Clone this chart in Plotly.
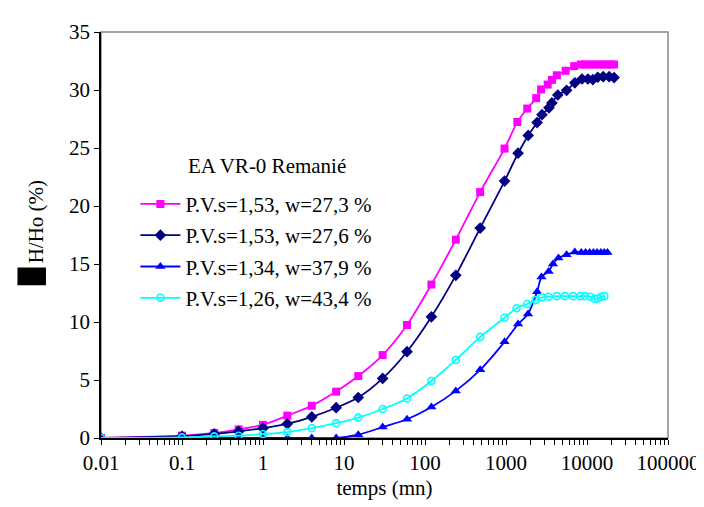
import plotly.graph_objects as go
import numpy as np

# ---------------- data ----------------
t_mag = [0.01, 0.1, 0.25, 0.5, 1, 2, 4, 8, 15, 30, 60, 120, 240, 480, 960, 1380, 1830, 2360, 2710,
         3270, 3690, 4240, 5450, 6940, 8400, 9500, 10800, 12200, 13800, 15600, 17600, 19600, 21600]
v_mag = [0, 0.2, 0.43, 0.74, 1.13, 1.93, 2.78, 4.0, 5.34, 7.15, 9.74, 13.23, 17.1, 21.2, 24.95, 27.24, 28.4,
         29.3, 30.05, 30.47, 30.87, 31.27, 31.66, 32.06, 32.2, 32.2, 32.2, 32.2, 32.2, 32.2, 32.2, 32.2, 32.2]

t_nav = [0.01, 0.1, 0.25, 0.5, 1, 2, 4, 8, 15, 30, 60, 120, 240, 480, 960, 1410, 1880, 2420, 2780,
         3390, 3690, 4360, 5600, 7080, 8680, 10250, 11800, 13570, 15860, 18780, 21600]
v_nav = [0, 0.15, 0.35, 0.57, 0.85, 1.22, 1.82, 2.61, 3.49, 5.14, 7.44, 10.45, 14.02, 18.1, 22.15, 24.55,
         26.08, 27.19, 27.87, 28.46, 28.89, 29.57, 29.97, 30.62, 30.95, 30.95, 30.9, 31.1, 31.15, 31.15, 31.07]

t_blu = [0.01, 0.1, 0.25, 0.5, 1, 2, 4, 8, 15, 30, 60, 120, 240, 480, 960, 1410, 1870, 2420, 2740,
         3360, 3800, 4440, 5600, 7080, 8500, 9600, 10800, 12000, 13300, 14800, 16300, 17900]
v_blu = [0, 0, 0, 0, 0, 0, 0, 0, 0.28, 0.94, 1.62, 2.67, 4.06, 5.88, 8.29, 9.82, 10.7, 12.6, 13.88,
         14.36, 15.01, 15.52, 15.8, 16.03, 16.0, 16.0, 16.0, 16.0, 16.0, 16.0, 16.0, 16.0]

t_cya = [0.01, 0.1, 0.25, 0.5, 1, 2, 4, 8, 15, 30, 60, 120, 240, 480, 960, 1350, 1830, 2310, 2780,
         3360, 4240, 5350, 6750, 8300, 9360, 10970, 12370, 13570, 14900, 16360]
v_cya = [0, 0.05, 0.14, 0.2, 0.34, 0.51, 0.85, 1.28, 1.76, 2.5, 3.41, 4.91, 6.73, 8.72, 10.36, 11.19,
         11.55, 11.89, 12.12, 12.18, 12.23, 12.23, 12.23, 12.23, 12.23, 12.18, 12.01, 12.03, 12.18, 12.23]

names = ["P.V.s=1,53, w=27,3 %", "P.V.s=1,53, w=27,6 %", "P.V.s=1,34, w=37,9 %", "P.V.s=1,26, w=43,4 %"]
legend_title = "EA VR-0 Remanié"
x_title = "temps (mn)"
y_title = "H/Ho (%)"

decades = [0.01, 0.1, 1, 10, 100, 1000, 10000, 100000]
decade_labels = ["0.01", "0.1", "1", "10", "100", "1000", "10000", "100000"]

# tick positions (majors + minors) on log axis
tickvals, ticktext = [], []
for d, lab in zip(decades, decade_labels):
    tickvals.append(d)
    ticktext.append(lab)
    if d < 100000:
        for k in range(2, 10):
            tickvals.append(d * k)
            ticktext.append("")

FONT = "Liberation Serif, Times New Roman, serif"
FS = 21

fig = go.Figure()
styles = [
    dict(color="#FF00FF", symbol="square", size=8),
    dict(color="#000080", symbol="diamond", size=9),
    dict(color="#0000FF", symbol="triangle-up", size=9),
    dict(color="#00FFFF", symbol="circle-open", size=7),
]
series = [(t_mag, v_mag), (t_nav, v_nav), (t_blu, v_blu), (t_cya, v_cya)]
for i, ((tx, vy), st, nm) in enumerate(zip(series, styles, names)):
    mk = dict(color=st["color"], symbol=st["symbol"], size=st["size"])
    if st["symbol"] == "circle-open":
        mk["line"] = dict(width=1.6, color=st["color"])
    fig.add_trace(go.Scatter(
        x=tx, y=vy, mode="lines+markers", name=nm, legendgroup=f"g{i}",
        line=dict(color=st["color"], width=1.8, shape="spline", smoothing=0.8),
        marker=mk,
    ))

L, R, T, B = 93, 670, 18, 430
W, H = 704, 507
pw, ph = R - L, B - T

def px(x):
    return (x - L) / pw

def py(y):
    return (B - y) / ph

fig.update_layout(
    width=W, height=H,
    margin=dict(l=L, r=W - R, t=T, b=H - B, pad=0),
    paper_bgcolor="white", plot_bgcolor="white",
    font=dict(family=FONT, size=FS, color="black"),
    showlegend=True,
    legend=dict(x=px(128), y=py(172), xanchor="left", yanchor="top",
                bgcolor="rgba(0,0,0,0)", font=dict(size=FS, family=FONT),
                tracegroupgap=1, itemwidth=40),
    xaxis=dict(type="log", range=[-2, 5], tickmode="array", tickvals=tickvals, ticktext=ticktext,
               ticks="outside", ticklen=5, tickcolor="black", showline=True, linecolor="black",
               linewidth=1.5, showgrid=False, zeroline=False,
               tickfont=dict(size=FS, family=FONT),
               title=dict(text=x_title, font=dict(size=FS, family=FONT), standoff=6)),
    yaxis=dict(range=[0, 35], dtick=5, tick0=0, ticks="outside", ticklen=5, tickcolor="black",
               showline=True, linecolor="black", linewidth=1.5, showgrid=False, zeroline=False,
               tickfont=dict(size=FS, family=FONT)),
    shapes=[
        dict(type="rect", xref="paper", yref="paper", x0=0, x1=1, y0=0, y1=1,
             line=dict(color="#888888", width=1.5), layer="below"),
        dict(type="rect", xref="paper", yref="paper", x0=px(8), x1=px(37), y0=py(275), y1=py(257),
             line=dict(width=0), fillcolor="black"),
    ],
    annotations=[
        dict(text=y_title, xref="paper", yref="paper", x=px(27), y=py(211), textangle=-90,
             showarrow=False, xanchor="center", yanchor="middle", font=dict(size=FS, family=FONT)),
        dict(text=legend_title, xref="paper", yref="paper", x=px(262), y=py(154),
             showarrow=False, xanchor="center", yanchor="middle", font=dict(size=FS, family=FONT)),
    ],
)

fig.write_html("out.html")
